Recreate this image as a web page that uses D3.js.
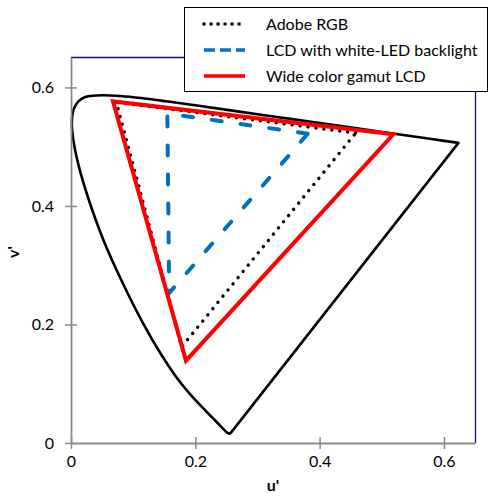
<!DOCTYPE html>
<html><head><meta charset="utf-8">
<script src="https://cdn.jsdelivr.net/npm/d3@7"></script>
<style>body{margin:0;background:#fff}svg{display:block}</style>
</head><body>
<svg id="c" width="489" height="497"></svg>
<script>
// Spectral locus (CIE 1976 u', v'), 380 nm ... 700 nm
const locusU = [0.2568,0.2557,0.2522,0.2461,0.2347,0.2161,0.2033,0.1877,0.1690,0.1441,0.1147,0.0828,0.0521,0.0282,0.0119,0.0035,0.0014,0.0046,0.0123,0.0231,0.0360,0.0501,0.0643,0.0792,0.1127,0.1531,0.2026,0.2623,0.3315,0.4035,0.5203,0.5830,0.6234];
const locusV = [0.0166,0.0159,0.0169,0.0226,0.0350,0.0549,0.0688,0.0871,0.1119,0.1510,0.2044,0.2708,0.3427,0.4117,0.4698,0.5131,0.5432,0.5638,0.5770,0.5837,0.5861,0.5868,0.5865,0.5856,0.5821,0.5766,0.5694,0.5604,0.5501,0.5393,0.5219,0.5125,0.5065];
// Gamut triangles: R, G, B
const seriesNames = ["Adobe RGB","LCD with white-LED backlight","Wide color gamut LCD"];
const adobeU = [0.458,0.073,0.178], adobeV = [0.523,0.575,0.162];
const ledU = [0.381,0.155,0.158], ledV = [0.522,0.556,0.253];
const wideU = [0.5186,0.0676,0.185], wideV = [0.521,0.5764,0.139];
const xTicks = [0,0.2,0.4,0.6], yTicks = [0,0.2,0.4,0.6];
const xTickLabels = ["0","0.2","0.4","0.6"], yTickLabels = ["0","0.2","0.4","0.6"];

const svg = d3.select("#c");
const font = "Lato, 'Open Sans', sans-serif";
const x = d3.scaleLinear().domain([0,0.65]).range([71,475]);
const y = d3.scaleLinear().domain([0,0.65]).range([443,57.8]);

// plot frame top/right
svg.append("path").attr("d",`M${x(0)},57.5H475.5V${y(0)}`)
  .attr("fill","none").attr("stroke","#10107a").attr("stroke-width",1.3);

const line = d3.line().x(d=>x(d[0])).y(d=>y(d[1]));
const locus = locusU.map((u,i)=>[u,locusV[i]]);
svg.append("path").attr("d", d3.line().x(d=>x(d[0])).y(d=>y(d[1])).curve(d3.curveCatmullRom)(locus) + `L${x(locusU[0])},${y(locusV[0])}`)
  .attr("fill","none").attr("stroke","#000").attr("stroke-width",2.6).attr("stroke-linejoin","round");

function tri(U,V){ const p=U.map((u,i)=>[u,V[i]]); return line(p)+"Z"; }
const styles = [
  {stroke:"#000", w:3.4, dash:"0.1,7.9", cap:"round", ldash:"0.1,6.9"},
  {stroke:"#0070C0", w:4, dash:"10,19", cap:"round", ldash:"11,5"},
  {stroke:"#FF0000", w:4, dash:null, cap:"butt", ldash:null}
];
const tris = [[adobeU,adobeV],[ledU,ledV],[wideU,wideV]];
[1,0,2].forEach(i=>{
  svg.append("path").attr("d",tri(tris[i][0],tris[i][1])).attr("fill","none")
    .attr("stroke",styles[i].stroke).attr("stroke-width",styles[i].w)
    .attr("stroke-dasharray",styles[i].dash).attr("stroke-linecap",styles[i].cap)
    .attr("stroke-linejoin","miter");
});

// axes
const axisColor = "#8a8a8a";
const gx = svg.append("g").attr("transform",`translate(0,${y(0)})`)
  .call(d3.axisBottom(x).tickValues(xTicks).tickFormat((d,i)=>xTickLabels[i]).tickSize(6).tickSizeOuter(0));
const gy = svg.append("g").attr("transform",`translate(${x(0)},0)`)
  .call(d3.axisLeft(y).tickValues(yTicks).tickFormat((d,i)=>yTickLabels[i]).tickSize(6).tickSizeOuter(0));
[gx,gy].forEach(g=>{
  g.select(".domain").attr("stroke",axisColor).attr("stroke-width",1.8);
  g.selectAll(".tick line").attr("stroke",axisColor).attr("stroke-width",1.5);
  g.selectAll("text").attr("fill","#000").style("font-family",font).style("font-size","16px");
});
gx.selectAll(".tick line").attr("y1",-6);
gx.selectAll("text").attr("y",13);
gy.selectAll(".tick line").attr("x1",6);
gy.selectAll("text").attr("x",-17);

svg.append("text").attr("x",273).attr("y",491).attr("text-anchor","middle")
  .style("font-family",font).style("font-size","16px").style("font-weight","bold").text("u'");
svg.append("text").attr("transform","translate(19,252) rotate(-90)").attr("text-anchor","middle")
  .style("font-family",font).style("font-size","16px").style("font-weight","bold").text("v'");

// legend
const lg = svg.append("g");
lg.append("rect").attr("x",184.5).attr("y",7.5).attr("width",303).attr("height",84)
  .attr("fill","#fff").attr("stroke","#000").attr("stroke-width",1);
seriesNames.forEach((n,i)=>{
  const yy = 24 + i*26;
  lg.append("line").attr("x1",204).attr("x2",245).attr("y1",yy).attr("y2",yy)
    .attr("stroke",styles[i].stroke).attr("stroke-width",i===0?3:3.5)
    .attr("stroke-dasharray",styles[i].ldash).attr("stroke-linecap",i===0?"square":"butt");
  lg.append("text").attr("x",266).attr("y",yy+5.5).style("font-family",font).style("font-size","16px").text(n);
});
</script>
</body></html>
